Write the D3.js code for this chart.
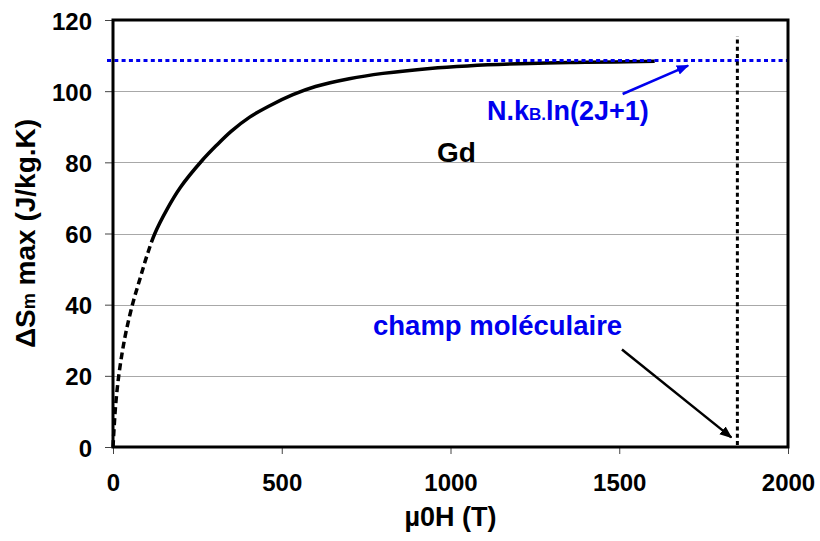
<!DOCTYPE html>
<html>
<head>
<meta charset="utf-8">
<script src="https://cdn.jsdelivr.net/npm/d3@7"></script>
<style>
  body { margin: 0; background: #fff; }
  text { font-family: "Liberation Sans", Arial, Helvetica, sans-serif; font-weight: bold; }
</style>
</head>
<body>
<div id="chart"></div>
<script>
var fieldValues = [0, 3, 8, 17, 28, 40, 59, 80, 100, 124, 160, 200, 262, 306, 350, 405, 460, 533, 600, 700, 800, 939, 1050, 1235, 1400, 1605];
var entropyValues = [0, 5, 12, 20, 27, 33, 40.5, 47.3, 53.6, 60, 66.8, 73, 80.3, 84.7, 88.7, 92.7, 95.7, 99.0, 101.3, 103.5, 105.0, 106.4, 107.1, 107.8, 108.1, 108.4];
var saturationValue = 108.6;
var molecularField = 1850;
var xTicks = [0, 500, 1000, 1500, 2000];
var yTicks = [0, 20, 40, 60, 80, 100, 120];

var width = 820;
var height = 541;
var margin = { top: 20, right: 32, bottom: 94, left: 113 };

var svg = d3.select('#chart')
  .append('svg')
  .attr('width', width)
  .attr('height', height);

var x = d3.scaleLinear().domain([0, 2000]).range([margin.left, width - margin.right]);
var y = d3.scaleLinear().domain([0, 120]).range([height - margin.bottom, margin.top]);

var points = fieldValues.map(function (h, i) {
  return { h: h, s: entropyValues[i] };
});

// gridlines
svg.append('g')
  .attr('class', 'grid')
  .selectAll('line')
  .data(yTicks.slice(1, -1))
  .enter()
  .append('line')
  .attr('x1', x(0))
  .attr('x2', x(2000))
  .attr('y1', function (d) { return Math.round(y(d)) + 0.5; })
  .attr('y2', function (d) { return Math.round(y(d)) + 0.5; })
  .style('stroke', '#a8a8a8')
  .style('stroke-width', '1.2px');

// axes
var yAxis = svg.append('g')
  .attr('transform', 'translate(' + x(0) + ',0)')
  .call(d3.axisLeft(y).tickValues(yTicks).tickSize(8).tickPadding(13));

var xAxis = svg.append('g')
  .attr('transform', 'translate(0,' + y(0) + ')')
  .call(d3.axisBottom(x).tickValues(xTicks).tickFormat(d3.format('d')).tickSize(7).tickPadding(20));

[yAxis, xAxis].forEach(function (ax) {
  ax.select('.domain').remove();
  ax.selectAll('.tick line').attr('stroke', '#444').attr('stroke-width', 1);
  ax.selectAll('.tick text')
    .attr('fill', '#000')
    .style('font-size', '24px');
});
yAxis.selectAll('.tick text').attr('dy', '0.38em');

// the curve: dashed near the origin where the points are sparse, solid after
var line = d3.line()
  .x(function (d) { return x(d.h); })
  .y(function (d) { return y(d.s); })
  .curve(d3.curveCatmullRom.alpha(0.5));

var curve = svg.append('path')
  .datum(points)
  .attr('d', line)
  .attr('fill', 'none')
  .attr('stroke', '#000')
  .attr('stroke-width', 3.5);

var node = curve.node();
var dashedLength = 0;
while (dashedLength < node.getTotalLength() && node.getPointAtLength(dashedLength).y > y(57)) {
  dashedLength += 1;
}
var pattern = [];
for (var run = 0; run < dashedLength; run += 11) {
  pattern.push(7, 4);
}
pattern.push(100000, 0);
curve.attr('stroke-dasharray', pattern.join(','));

// saturation level N.kB.ln(2J+1)
svg.append('line')
  .attr('x1', x(0) - 6)
  .attr('x2', x(2000))
  .attr('y1', y(saturationValue))
  .attr('y2', y(saturationValue))
  .attr('stroke', '#0000ee')
  .attr('stroke-width', 3)
  .attr('stroke-dasharray', '4,3.3');

// molecular field
svg.append('line')
  .attr('x1', x(molecularField))
  .attr('x2', x(molecularField))
  .attr('y1', y(0) - 2)
  .attr('y2', y(115.5))
  .attr('stroke', '#000')
  .attr('stroke-width', 3)
  .attr('stroke-dasharray', '4,3.3');

// frame
svg.append('rect')
  .attr('x', x(0))
  .attr('y', y(120))
  .attr('width', x(2000) - x(0))
  .attr('height', y(0) - y(120))
  .attr('fill', 'none')
  .attr('stroke', '#000')
  .attr('stroke-width', 3);

// arrow heads
var defs = svg.append('defs');
['#0000ee', '#000'].forEach(function (c, i) {
  defs.append('marker')
    .attr('id', 'arrow' + i)
    .attr('viewBox', '0 0 10 10')
    .attr('refX', 9)
    .attr('refY', 5)
    .attr('markerWidth', 5)
    .attr('markerHeight', 5)
    .attr('orient', 'auto')
    .attr('markerUnits', 'strokeWidth')
    .append('path')
    .attr('d', 'M0,1 L10,5 L0,9 Z')
    .attr('fill', c);
});

svg.append('line')
  .attr('x1', x(1510)).attr('y1', y(99.2))
  .attr('x2', x(1704)).attr('y2', y(107.2))
  .attr('stroke', '#0000ee')
  .attr('stroke-width', 2.5)
  .attr('marker-end', 'url(#arrow0)');

svg.append('line')
  .attr('x1', x(1508)).attr('y1', y(27.4))
  .attr('x2', x(1832)).attr('y2', y(2.7))
  .attr('stroke', '#000')
  .attr('stroke-width', 2.5)
  .attr('marker-end', 'url(#arrow1)');

// annotations
svg.append('text')
  .attr('x', 437)
  .attr('y', 162)
  .attr('fill', '#000')
  .style('font-size', '28px')
  .text('Gd');

var nk = svg.append('text')
  .attr('x', 487)
  .attr('y', 120)
  .attr('fill', '#0000ee')
  .style('font-size', '27px');
nk.append('tspan').text('N.k');
nk.append('tspan').style('font-size', '17px').text('B.');
nk.append('tspan').text('ln(2J+1)');

svg.append('text')
  .attr('x', 373)
  .attr('y', 335)
  .attr('fill', '#0000ee')
  .style('font-size', '27.5px')
  .text('champ moléculaire');

// axis titles
svg.append('text')
  .attr('x', (x(0) + x(2000)) / 2)
  .attr('y', 526)
  .attr('text-anchor', 'middle')
  .attr('fill', '#000')
  .style('font-size', '27px')
  .text('µ0H (T)');

var yt = svg.append('text')
  .attr('transform', 'translate(35,' + ((y(0) + y(120)) / 2) + ') rotate(-90)')
  .attr('text-anchor', 'middle')
  .attr('fill', '#000')
  .style('font-size', '28px');
yt.append('tspan').text('ΔS');
yt.append('tspan').style('font-size', '18px').text('m');
yt.append('tspan').text(' max (J/kg.K)');
</script>
</body>
</html>
